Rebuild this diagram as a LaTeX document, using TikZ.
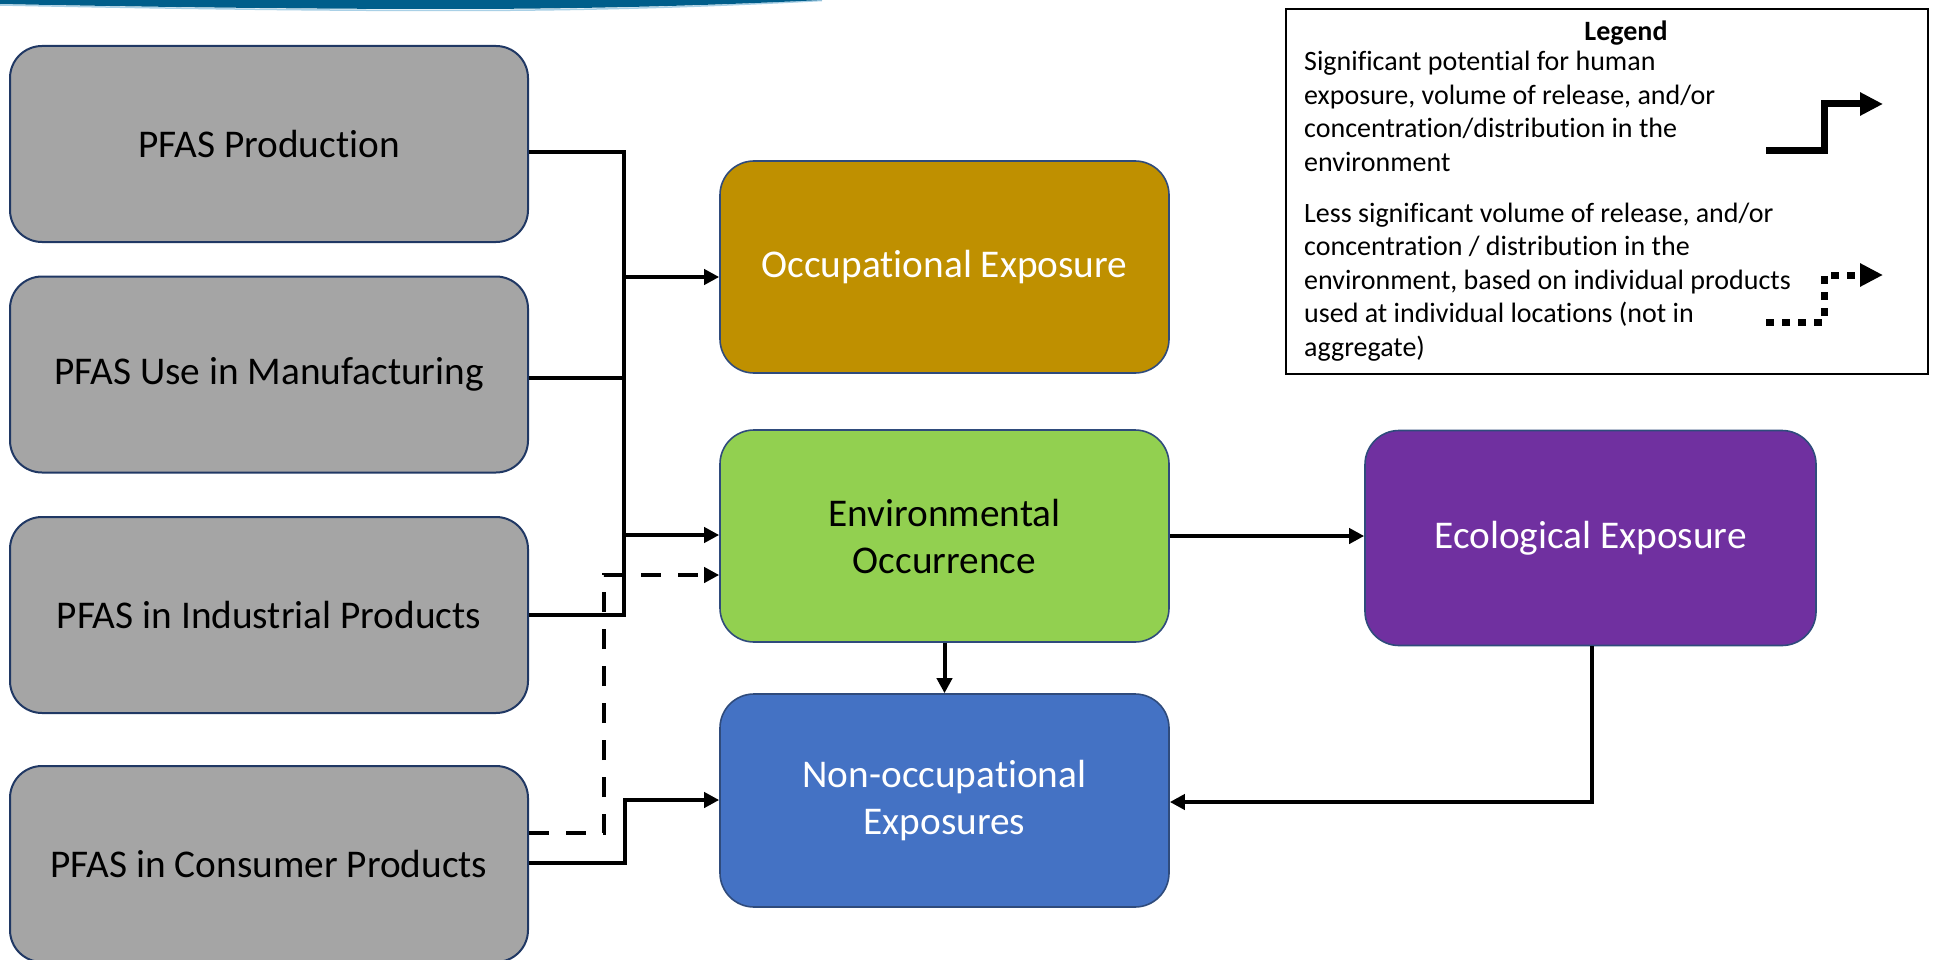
\documentclass[tikz,border=0pt]{standalone}
\usepackage{fontspec}
\setmainfont{Carlito}[Ligatures=NoCommon]
\usetikzlibrary{arrows.meta}
\definecolor{swooshblue}{HTML}{005E8B}
\definecolor{swooshlight}{HTML}{A9D0E6}
\definecolor{srcgray}{HTML}{A5A5A5}
\definecolor{srcedge}{HTML}{203864}
\definecolor{occgold}{HTML}{BF9000}
\definecolor{envgreen}{HTML}{92D050}
\definecolor{ecopurple}{HTML}{7030A0}
\definecolor{nonblue}{HTML}{4472C4}
\definecolor{boxedge}{HTML}{2F4B7C}
\tikzset{
  srcbox/.style={draw=srcedge, line width=2pt, fill=srcgray, rounded corners=32pt,
    minimum width=518pt, minimum height=196pt, inner sep=0pt,
    font=\fontsize{39.3}{46}\selectfont, text=black},
  catbox/.style={draw=boxedge, line width=1.6pt, rounded corners=34pt,
    minimum width=449pt, minimum height=212pt, inner sep=0pt, align=center,
    font=\fontsize{39.3}{47}\selectfont},
  conn/.style={line width=4pt, line join=miter},
  arr/.style={conn, -{Triangle[length=15pt, width=15pt]}},
  dsh/.style={arr, dash pattern=on 20pt off 17pt},
  legtext/.style={anchor=north west, inner sep=0pt, align=left,
    font=\fontsize{28}{33.5}\selectfont},
  legsolid/.style={line width=7pt, line join=miter, -{Triangle[length=23pt, width=22pt]}},
  legdot/.style={legsolid, dash pattern=on 8pt off 8pt}
}
\begin{document}
\begin{tikzpicture}[x=1pt, y=-1pt]
  \useasboundingbox (0,0) rectangle (1934,960);
  \fill[white] (0,0) rectangle (1934,960);

  % header swoosh
  \draw[swooshlight, line width=1.5pt] (0,5) .. controls (150,8) and (300,10.5) .. (450,10.5)
    .. controls (600,10.5) and (720,6) .. (822,0.5);
  \fill[swooshblue] (0,0) -- (822,0) .. controls (720,5) and (600,9) .. (450,9)
    .. controls (300,9) and (150,7) .. (0,4) -- cycle;

  % source boxes
  \node[srcbox] (p1) at (269,144)   {PFAS Production};
  \node[srcbox] (p2) at (269,374.5) {PFAS Use in Manufacturing};
  \node[srcbox] (p3) at (269,615)   {PFAS in Industrial Products};
  \node[srcbox] (p4) at (269,864)   {PFAS in Consumer Products};

  % exposure / occurrence boxes
  \node[catbox, fill=occgold, text=white] (occ) at (944.5,267) {Occupational Exposure};
  \node[catbox, fill=envgreen, text=black] (env) at (944.5,536) {Environmental\\Occurrence};
  \node[catbox, fill=nonblue, text=white, minimum height=213pt] (non) at (944.5,800.5) {Non-occupational\\Exposures};
  \node[catbox, fill=ecopurple, text=white, minimum width=451pt, minimum height=215pt] (eco) at (1590.5,538) {Ecological Exposure};

  % trunk junctions
  \coordinate (j1) at (624,152);
  \coordinate (j2) at (624,378);
  \coordinate (jo) at (624,277);
  \coordinate (je) at (624,535);
  \coordinate (j3) at (624,615);
  \coordinate (k2) at (625,800);
  \coordinate (d1) at (604,833);
  \coordinate (d2) at (604,575);
  \coordinate (e1) at (1592,802);

  % solid trunk from production, manufacturing and industrial products
  \draw[conn] (p1.east |- j1) -- (j1) -- (j3) -- (p3.east |- j3);
  \draw[conn] (p2.east |- j2) -- (j2);
  \draw[arr] (jo) -- (occ.west |- jo);
  \draw[arr] (je) -- (env.west |- je);

  % consumer products
  \draw[arr] (p4.east |- 0,863) -| (k2) -- (non.west |- k2);
  \draw[dsh] (p4.east |- d1) -- (d1) -- (d2) -- (env.west |- d2);

  % downstream links
  \draw[arr] (env.south) -- (non.north);
  \draw[arr] (env.east |- 0,536) -- (eco.west |- 0,536);
  \draw[arr] (eco.south -| e1) -- (e1) -- (non.east |- e1);

  % legend
  \node[draw=black, line width=2pt, minimum width=642pt, minimum height=365pt, inner sep=0pt] (leg) at (1607,191.5) {};
  \node[font=\fontsize{28}{33.5}\selectfont\bfseries] (legtitle) at (1626,33) {Legend};
  \node[legtext] (legA) at (1304,51) {Significant potential for human\\exposure, volume of release, and/or\\concentration/distribution in the\\environment};
  \node[legtext] (legB) at (1304,202.5) {Less significant volume of release, and/or\\concentration / distribution in the\\environment, based on individual products\\used at individual locations (not in\\aggregate)};
  \coordinate (ls0) at (1766,151);
  \coordinate (ls1) at (1824,104);
  \coordinate (ls2) at (1883,104);
  \draw[legsolid] (ls0) -| (ls1) -- (ls2);
  \coordinate (lt0) at (1766,322);
  \coordinate (lt1) at (1824,275);
  \coordinate (lt2) at (1883,275);
  \draw[legdot] (lt0) -| (lt1) -- (lt2);
\end{tikzpicture}
\end{document}
